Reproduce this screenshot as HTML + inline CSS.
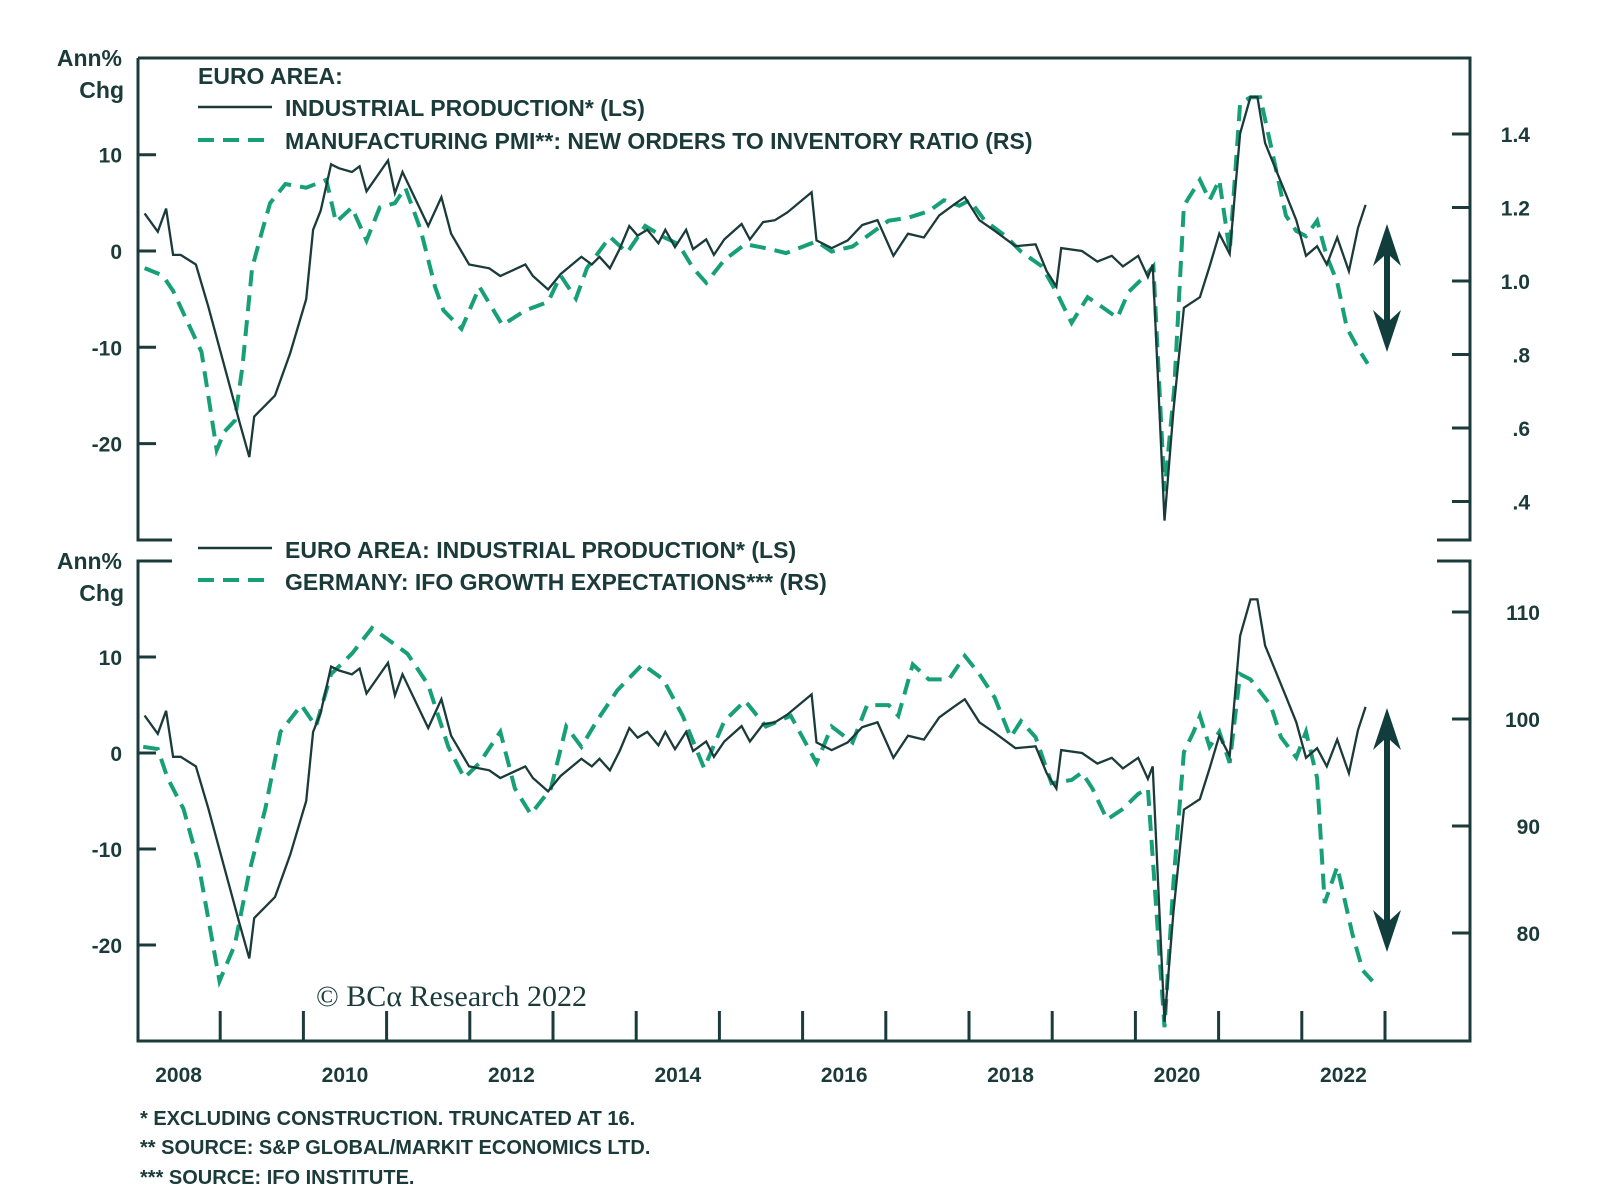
<!DOCTYPE html>
<html><head><meta charset="utf-8"><style>
html,body{margin:0;padding:0;background:#fff;}
svg{display:block;}
text{font-family:"Liberation Sans",sans-serif;fill:#1b3a3a;}
</style></head><body>
<svg id="chart" width="1600" height="1200" viewBox="0 0 1600 1200" xmlns="http://www.w3.org/2000/svg">
<g id="frame" stroke="#1b3a3a" stroke-width="3" fill="none">
<path d="M138 58 H1470 V540 H1437 M138 58 V540 H172"/>
<path d="M172 561 H138 V1041 H1470 V561 H1437"/>
</g>
<g font-size="23" font-weight="bold" letter-spacing="0">
<text x="198" y="84">EURO AREA:</text>
<line x1="198" y1="107" x2="272" y2="107" stroke="#1b3a3a" stroke-width="2.5"/>
<text x="285" y="116">INDUSTRIAL PRODUCTION*  (LS)</text>
<line x1="198" y1="140" x2="272" y2="140" stroke="#17a078" stroke-width="4" stroke-dasharray="16 9"/>
<text x="285" y="149">MANUFACTURING PMI**:  NEW ORDERS TO INVENTORY RATIO (RS)</text>
</g>
<g font-size="23" font-weight="bold" letter-spacing="0">
<line x1="198" y1="548" x2="272" y2="548" stroke="#1b3a3a" stroke-width="2.5"/>
<text x="285" y="558">EURO AREA: INDUSTRIAL PRODUCTION*  (LS)</text>
<line x1="198" y1="580" x2="272" y2="580" stroke="#17a078" stroke-width="4" stroke-dasharray="16 9"/>
<text x="285" y="590">GERMANY: IFO GROWTH EXPECTATIONS*** (RS)</text>
</g>
<g font-size="23" font-weight="bold" text-anchor="end">
<text x="122" y="66">Ann%</text>
<text x="124" y="98">Chg</text>
<text x="122" y="569">Ann%</text>
<text x="124" y="601">Chg</text>
</g>
<text x="316" y="1006" font-size="30" style="font-family:'Liberation Serif',serif">© BCα Research 2022</text>
<g font-size="20" font-weight="bold" letter-spacing="0">
<text x="140" y="1125">*  EXCLUDING CONSTRUCTION. TRUNCATED AT 16.</text>
<text x="140" y="1154">**  SOURCE: S&amp;P GLOBAL/MARKIT ECONOMICS LTD.</text>
<text x="140" y="1184">*** SOURCE: IFO INSTITUTE.</text>
</g>
<g id="dyn"></g>
</svg>
<script>
const ipMonths=[1.1,3.0,4.2,5.2,6.3,8.5,10.3,13.3,14.8,16.2,16.9,19.9,22.1,24.4,25.4,26.5,28.0,29.1,31.0,32.1,33.1,36.2,37.2,38.3,42.0,43.9,45.3,47.9,50.8,52.4,56.0,57.1,59.3,61.1,64.1,65.6,66.7,68.2,69.6,71.0,72.2,73.6,75.2,76.2,77.6,79.2,80.2,82.1,83.2,84.7,87.2,88.4,90.3,92.0,93.8,97.3,98.0,100.2,102.5,104.6,106.8,109.1,111.2,113.5,115.7,117.8,119.4,121.5,123.7,126.7,129.6,131.2,132.6,133.3,136.3,138.5,140.6,142.2,144.4,145.8,146.5,148.2,149.5,151.0,153.3,154.7,156.1,157.6,159.1,160.6,161.6,162.7,165.7,167.2,168.6,170.2,171.6,173.1,174.8,176.1,177.2];
const ipValues=[3.9,2,4.4,-0.4,-0.4,-1.4,-5.8,-13.8,-17.8,-21.4,-17.2,-15,-10.6,-5,2.2,4.2,9,8.6,8.2,8.8,6.2,9.4,6,8.2,2.6,5.6,1.8,-1.4,-1.8,-2.6,-1.4,-2.6,-4,-2.4,-0.6,-1.4,-0.6,-1.8,0.2,2.6,1.6,2.2,0.8,2.2,0.4,2.2,0.2,1.2,-0.4,1.2,2.8,1.2,3,3.2,4,6.1,1.1,0.3,1.1,2.7,3.2,-0.5,1.8,1.4,3.7,4.8,5.6,3.2,2.1,0.5,0.7,-2.1,-3.7,0.3,0,-1.1,-0.5,-1.6,-0.5,-2.7,-1.4,-28,-16.5,-5.9,-4.8,-1.6,1.8,-0.3,12.2,16,16,11.2,5.9,3.2,-0.5,0.5,-1.4,1.4,-2.1,2.4,4.8];
const pmiMonths=[1.1,3.7,5.2,7.5,9.3,11.5,12.6,14.1,15.2,16.6,18.1,19.2,21.4,24.4,27.3,28.7,31.0,33.1,35.0,37.2,38.7,40.9,43.0,44.2,46.8,49.4,52.7,56.0,59.3,61.1,63.3,64.9,68.2,70.7,73.3,75.9,78.1,80.2,82.1,84.7,87.7,91.3,93.6,98.0,100.2,103.2,105.3,108.4,111.2,114.2,116.4,118.6,120.1,122.3,125.3,127.5,130.5,132.6,134.8,137.1,139.3,141.4,143.0,145.2,146.6,148.2,149.6,151.0,153.3,154.7,156.1,157.6,159.1,160.6,162.0,163.5,165.7,167.2,168.6,170.2,171.6,173.1,174.5,176.1,177.5];
const pmiValues=[1.035,1.015,0.973,0.88,0.807,0.54,0.59,0.62,0.766,1.035,1.14,1.212,1.264,1.254,1.275,1.16,1.2,1.11,1.2,1.212,1.254,1.14,0.984,0.92,0.87,0.984,0.88,0.92,0.943,1.015,0.952,1.035,1.12,1.077,1.15,1.12,1.1,1.035,0.995,1.057,1.1,1.087,1.076,1.108,1.08,1.094,1.122,1.164,1.172,1.19,1.22,1.205,1.22,1.164,1.122,1.08,1.04,0.97,0.886,0.956,0.928,0.9,0.97,1.01,1.04,0.428,0.706,1.205,1.275,1.22,1.275,1.08,1.483,1.5,1.5,1.372,1.178,1.136,1.122,1.164,1.067,0.997,0.872,0.817,0.775];
const ifoMonths=[0.9,3.0,4.4,6.7,8.8,11.9,14.1,16.2,18.5,20.7,23.7,25.8,28.0,31.0,33.9,36.9,39.0,42.0,44.9,47.2,49.4,52.4,54.5,56.8,59.7,61.9,64.1,66.3,69.3,72.9,75.9,78.7,81.8,84.7,87.7,90.7,94.3,98.0,100.2,103.2,105.3,108.4,109.8,111.9,114.2,117.1,119.4,121.5,123.7,126.0,127.5,129.6,131.9,134.8,136.3,137.8,139.9,142.2,144.4,145.8,148.2,149.5,151.0,152.4,153.3,154.7,156.1,157.6,159.1,160.6,163.5,165.0,167.2,168.6,170.2,171.3,173.1,175.3,176.8,178.2];
const ifoValues=[97.4,97.2,94.5,91.6,86.7,75.5,78.9,85.7,91.6,98.8,101.3,99.3,104.2,106.1,108.5,107.1,106.1,103.2,97.4,94.5,95.9,98.8,93.5,91.1,93.5,99.3,97.4,99.8,102.7,105.1,103.7,100.3,95.4,99.8,101.7,99.3,100.3,95.9,99.3,97.8,101.3,101.3,100.3,105.1,103.7,103.7,105.9,104.2,102,98.3,99.8,98.3,94,94.3,95,93.5,90.6,91.6,93,93.5,71.2,84.8,96.9,98.8,100.3,97.4,98.8,95.9,104.2,103.7,101.3,98.3,96.4,98.8,94.5,82.8,86.2,79.9,76.5,75.5];
const yearLabels=["2008","2010","2012","2014","2016","2018","2020","2022"];
const leftTicks=[10,0,-10,-20];
const pmiTicks=[1.4,1.2,1.0,0.8,0.6,0.4];
const pmiTickLabels=["1.4","1.2","1.0",".8",".6",".4"];
const ifoTicks=[110,100,90,80];

const NS="http://www.w3.org/2000/svg";
const g=document.getElementById('dyn');
const x=m=>137+m*83.2/12;
const yTopL=v=>251-v*9.63;
const yTopR=v=>281-(v-1)*367.5;
const yBotL=v=>753-v*9.6;
const yBotR=v=>719-(v-100)*10.7;
function mk(tag,attrs){const e=document.createElementNS(NS,tag);for(const k in attrs)e.setAttribute(k,attrs[k]);g.appendChild(e);return e;}
function line(ms,vs,yf){return ms.map((m,i)=>(i?'L':'M')+x(m).toFixed(1)+' '+yf(vs[i]).toFixed(1)).join(' ');}

leftTicks.forEach(v=>{
 [[yTopL,'top'],[yBotL,'bottom']].forEach(([f,p])=>{
  const t=mk('line',{x1:138,x2:156,y1:f(v),y2:f(v),stroke:'#1b3a3a','stroke-width':3});
  
  
  const l=mk('text',{x:122,y:f(v)+8,'text-anchor':'end','font-size':21,'font-weight':'bold'});
  l.textContent=String(v);
  
  
 });
});
pmiTicks.forEach((v,i)=>{
 const t=mk('line',{x1:1452,x2:1470,y1:yTopR(v),y2:yTopR(v),stroke:'#1b3a3a','stroke-width':3});
 
 
 const l=mk('text',{x:1530,y:yTopR(v)+8,'text-anchor':'end','font-size':21,'font-weight':'bold'});
 l.textContent=pmiTickLabels[i];
 
 
});
ifoTicks.forEach(v=>{
 const t=mk('line',{x1:1452,x2:1470,y1:yBotR(v),y2:yBotR(v),stroke:'#1b3a3a','stroke-width':3});
 
 
 const l=mk('text',{x:1540,y:yBotR(v)+8,'text-anchor':'end','font-size':21,'font-weight':'bold'});
 l.textContent=String(v);
 
 
});
for(let k=1;k<=15;k++){
 const t=mk('line',{x1:x(k*12),x2:x(k*12),y1:1011,y2:1041,stroke:'#1b3a3a','stroke-width':3});
 
 
}
yearLabels.forEach((s,i)=>{
 const l=mk('text',{x:x(6+i*24),y:1082,'text-anchor':'middle','font-size':21,'font-weight':'bold'});
 l.textContent=s;
 
 
});

const s1=mk('path',{d:line(pmiMonths,pmiValues,yTopR),fill:'none',stroke:'#17a078','stroke-width':4,'stroke-dasharray':'16 9'});


const s2=mk('path',{d:line(ipMonths,ipValues,yTopL),fill:'none',stroke:'#1b3a3a','stroke-width':2.3});


const s3=mk('path',{d:line(ifoMonths,ifoValues,yBotR),fill:'none',stroke:'#17a078','stroke-width':4,'stroke-dasharray':'16 9'});


const s4=mk('path',{d:line(ipMonths,ipValues,yBotL),fill:'none',stroke:'#1b3a3a','stroke-width':2.3});



function arrow(y1,y2,name){
 const xc=1387;
 const a=mk('path',{d:`M${xc} ${y1} L${xc+14} ${y1+42} L${xc+3} ${y1+32} L${xc+3} ${y2-32} L${xc+14} ${y2-42} L${xc} ${y2} L${xc-14} ${y2-42} L${xc-3} ${y2-32} L${xc-3} ${y1+32} L${xc-14} ${y1+42} Z`,fill:'#123d3d'});
 
 
}
arrow(224,352,'top-double-arrow');
arrow(708,952,'bottom-double-arrow');
</script>
</body></html>
